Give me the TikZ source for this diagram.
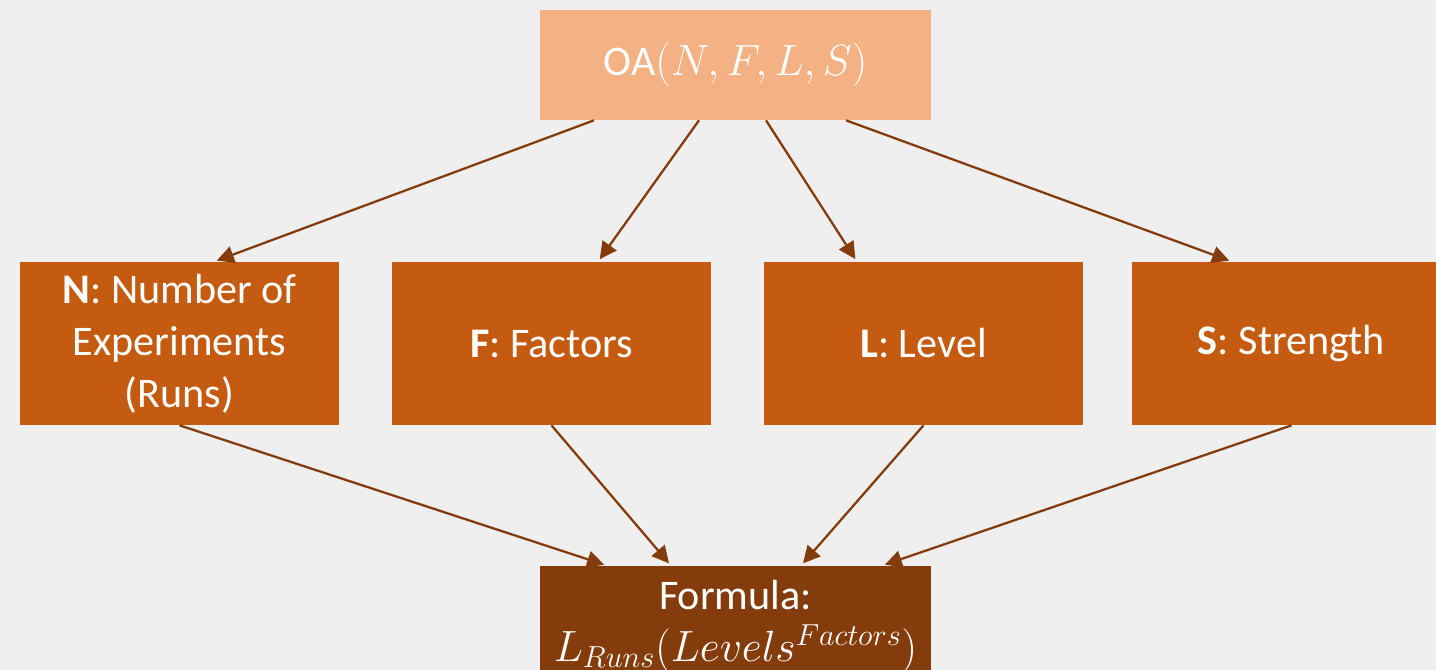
\documentclass[tikz,border=0pt]{standalone}
\usepackage{amsmath, amssymb}
\usepackage{fontspec}
\setmainfont{Carlito}
\usepackage{xcolor}
\usetikzlibrary{calc, arrows.meta, positioning}

\definecolor{oalight}{HTML}{F4B183}
\definecolor{oamid}{HTML}{C55A11}
\definecolor{oadark}{HTML}{843C0C}
\definecolor{bggray}{HTML}{EFEFEF}

\begin{document}
\begin{tikzpicture}[>={Triangle[length=0.34cm, width=0.34cm]},
    box/.style={rectangle, draw=none, text=white, align=center,
        font=\fontsize{24}{29.5}\selectfont, inner sep=0pt},
    link/.style={->, draw=oadark, line width=1.3pt, shorten >=0.06cm}]
    % Khung nền
    \useasboundingbox (0,0) rectangle (28.72,13.4);
    \clip (0,0) rectangle (28.72,13.4);
    \fill[bggray] (0,0) rectangle (28.72,13.4);

    % Ô trên cùng
    \node[box, fill=oalight, minimum width=7.82cm, minimum height=2.2cm] (oa)
        at (14.71,12.1) {OA$(N,F,L,S)$};

    % Hàng bốn ô ở giữa
    \node[box, fill=oamid, minimum width=6.38cm, minimum height=3.26cm] (num)
        at (3.59,6.53) {\textbf{N}: Number of\\Experiments\\(Runs)};
    \node[box, fill=oamid, minimum width=6.38cm, minimum height=3.26cm] (fac)
        at (11.03,6.53) {\textbf{F}: Factors};
    \node[box, fill=oamid, minimum width=6.38cm, minimum height=3.26cm] (lev)
        at (18.47,6.53) {\textbf{L}: Level};
    \node[box, fill=oamid, minimum width=6.38cm, minimum height=3.26cm] (str)
        at (25.83,6.53) {\textbf{S}: Strength};

    % Ô công thức
    \node[box, fill=oadark, minimum width=7.82cm, minimum height=2.4cm] (form)
        at (14.71,0.88) {Formula:\\$L_{Runs}(Levels^{Factors})$};

    % Mũi tên từ trên xuống
    \draw[link] ($(oa.south)+(-2.83,0)$) -- ($(num.north)+(0.69,0)$);
    \draw[link] ($(oa.south)+(-0.73,0)$) -- ($(fac.north)+(0.93,0)$);
    \draw[link] ($(oa.south)+(0.61,0)$) -- ($(lev.north)+(-1.33,0)$);
    \draw[link] ($(oa.south)+(2.21,0)$) -- ($(str.north)+(-1.19,0)$);

    % Mũi tên về ô công thức
    \draw[link] (num.south) -- ($(form.north)+(-2.57,0)$);
    \draw[link] (fac.south) -- ($(form.north)+(-1.29,0)$);
    \draw[link] (lev.south) -- ($(form.north)+(1.31,0)$);
    \draw[link] (str.south) -- ($(form.north)+(2.93,0)$);
\end{tikzpicture}
\end{document}
